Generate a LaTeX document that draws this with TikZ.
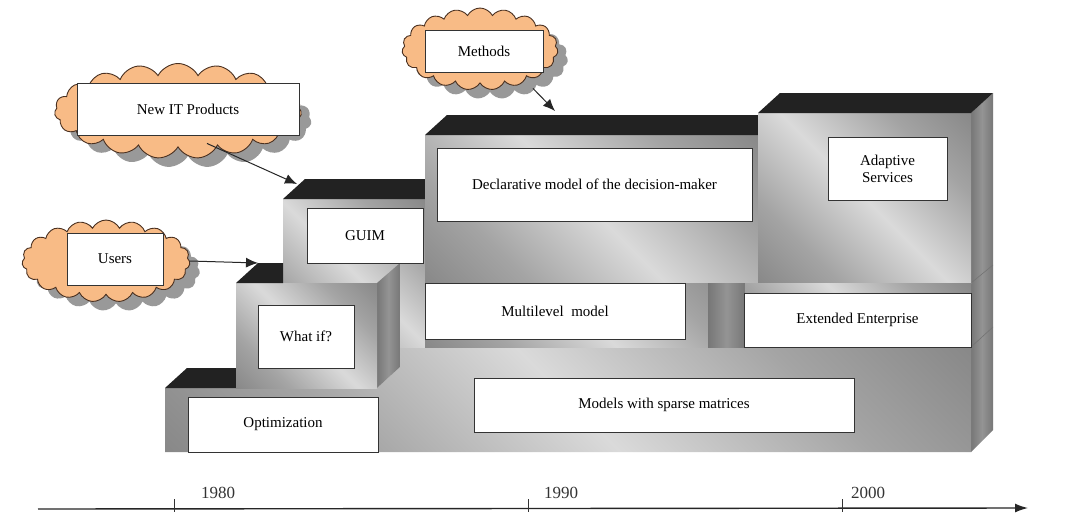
\documentclass[tikz,border=0pt]{standalone}
\usepackage{fontspec}
\setmainfont{Liberation Serif}
\usetikzlibrary{arrows.meta,shapes.symbols,shadows,calc}
\definecolor{mdark}{HTML}{6E6E6E}
\definecolor{mmid}{HTML}{A4A4A4}
\definecolor{mlight}{HTML}{DADADA}
\definecolor{sdark}{HTML}{5A5A5A}
\definecolor{smid}{HTML}{949494}
\definecolor{topblack}{HTML}{222222}
\definecolor{cloudfill}{HTML}{F8BB86}
\definecolor{cloudline}{HTML}{4A3020}
\definecolor{shadowgray}{HTML}{999999}
\pgfdeclarehorizontalshading{metal}{100bp}{color(0bp)=(mdark); color(30bp)=(mmid); color(50bp)=(mlight); color(70bp)=(mmid); color(100bp)=(mdark)}
\pgfdeclarehorizontalshading{sidemetal}{100bp}{color(0bp)=(sdark); color(50bp)=(smid); color(100bp)=(sdark)}
\begin{document}
\begin{tikzpicture}[x=1pt,y=-1pt,
  front/.style={shade, shading=metal, shading angle=45},
  side/.style={shade, shading=sidemetal, shading angle=0},
  blacktop/.style={fill=topblack},
  label/.style={draw=black!80, line width=0.9pt, fill=white, inner sep=0pt, align=center, font=\fontsize{15}{17}\selectfont},
  puff/.style={cloud, cloud puffs=19, cloud puff arc=125, cloud ignores aspect, draw=cloudline, line width=0.9pt, fill=cloudfill, drop shadow={shadow xshift=10pt, shadow yshift=-9pt, fill=shadowgray, opacity=1}, inner sep=0pt},
  feed/.style={-{Latex[length=12pt,width=10pt]}, line width=1pt, black!85},
  year/.style={font=\fontsize{17}{19}\selectfont, text=black!80},
]
\useasboundingbox (0,0) rectangle (1066,512);
\fill[white] (0,0) rectangle (1066,512);

% right side faces
\path[side] (971,113) -- (993,93) -- (993,430) -- (971,452) -- cycle;
\draw[black!55, line width=0.6pt] (971,283) -- (993,265);
\draw[black!55, line width=0.6pt] (971,347) -- (993,327);

% base layer
\path[front] (165,388) -- (377,388) -- (400,367) -- (400,347) -- (971,347) -- (971,452) -- (165,452) -- cycle;
\fill[blacktop] (165,388) -- (187,368) -- (236,368) -- (236,388) -- cycle;
\draw[black!60, line width=0.8pt] (400,347) -- (971,347);

% GUIM column
\path[front] (283,199) rectangle (425,347);
\fill[blacktop] (283,199) -- (305,179) -- (425,179) -- (425,199) -- cycle;

% What if block
\path[side] (377,283) -- (400,263) -- (400,367) -- (377,388) -- cycle;
\path[front] (236,283) rectangle (377,388);
\fill[blacktop] (236,283) -- (258,263) -- (283,263) -- (283,283) -- cycle;

% Declarative block
\path[front] (425,135) rectangle (758,283);
\fill[blacktop] (425,135) -- (447,115) -- (758,115) -- (758,135) -- cycle;

% Multilevel layer
\path[front] (425,283) rectangle (745,347);
\path[side] (708,283) rectangle (745,347);

% Adaptive block
\path[front] (758,113) rectangle (971,283);
\fill[blacktop] (758,113) -- (780,93) -- (993,93) -- (971,113) -- cycle;

% Extended layer
\path[front] (745,283) rectangle (971,347);

% label boxes
\node[label, minimum width=190pt, minimum height=55pt] (optbox) at (283,424.5) {Optimization};
\node[label, minimum width=96pt, minimum height=63pt] (whatbox) at (306,336.5) {What if?};
\node[label, minimum width=116pt, minimum height=55pt] (guimbox) at (365,235.5) {GUIM};
\node[label, minimum width=315pt, minimum height=73pt] (declbox) at (594.5,184.5) {Declarative model of the decision-maker};
\node[label, minimum width=119pt, minimum height=63pt] (adaptbox) at (887.5,168.5) {Adaptive\\Services};
\node[label, minimum width=260pt, minimum height=56pt] (multibox) at (555,311) {Multilevel\ \ model};
\node[label, minimum width=227pt, minimum height=54pt] (extbox) at (857.5,320) {Extended Enterprise};
\node[label, minimum width=380pt, minimum height=54pt] (modelbox) at (664,405) {Models with sparse matrices};

% clouds
\node[puff, minimum width=247pt, minimum height=95pt] (nitcloud) at (178,111) {};
\node[label, minimum width=222pt, minimum height=52pt] (nitbox) at (188,109) {New IT Products};
\node[puff, minimum width=156pt, minimum height=82pt] (methcloud) at (480,49) {};
\node[label, minimum width=118pt, minimum height=42pt] (methbox) at (484,51) {Methods};
\node[puff, minimum width=168pt, minimum height=82pt] (userscloud) at (106,261) {};
\node[label, minimum width=96pt, minimum height=52pt] (usersbox) at (115,259) {Users};

% connectors
\coordinate (guimcorner) at (297,184);
\coordinate (whatcorner) at (258,263);
\coordinate (declcorner) at (555,111);
\draw[feed] ($(nitbox.south)+(19,8)$) -- (guimcorner);
\draw[feed] (userscloud.east) -- (whatcorner);
\draw[feed] ($(methbox.south)+(49,16)$) -- (declcorner);

% time axis
\coordinate (t0) at (38,509);
\coordinate (t1) at (1028,508);
\draw[line width=1.4pt, black!85, -{Latex[length=13pt,width=9pt]}] (t0) -- (t1);
\draw[line width=0.9pt, black!80] (174,499) -- (174,512);
\draw[line width=0.9pt, black!80] (528,499) -- (528,512);
\draw[line width=0.9pt, black!80] (842,499) -- (842,512);
\node[year] (y1980) at (218,493) {1980};
\node[year] (y1990) at (561,493) {1990};
\node[year] (y2000) at (868,493) {2000};
\end{tikzpicture}
\end{document}
